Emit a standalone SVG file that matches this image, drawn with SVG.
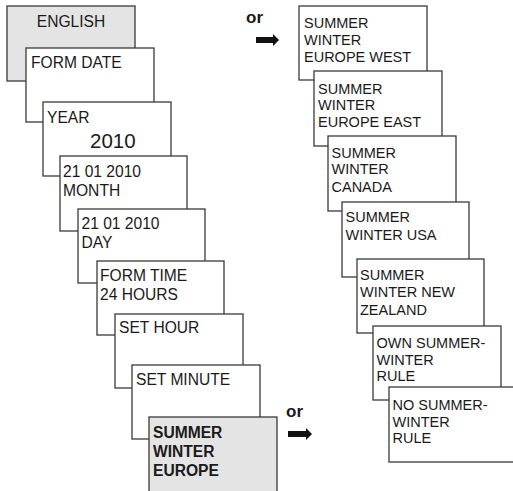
<svg xmlns="http://www.w3.org/2000/svg" width="513" height="491" viewBox="0 0 513 491">
<style>
.box{fill:#ffffff;stroke:#3a3a3a;stroke-width:1.3}
.sel{fill:#e4e4e4;stroke:#3a3a3a;stroke-width:1.3}
text{font-family:"Liberation Sans",Arial,sans-serif;fill:#1a1a1a}
.l{font-size:15.6px}
.r{font-size:14.5px}
.b{font-size:15.6px;font-weight:bold}
.big{font-size:20.5px}
.or{font-size:17px;font-weight:bold}
.arr{fill:#111111}
</style>
<rect width="513" height="491" fill="#ffffff"/>
<g id="english"><rect class="sel" x="7" y="6" width="128" height="75"/><text class="l" x="71" y="27" text-anchor="middle">ENGLISH</text></g>
<g id="form-date"><rect class="box" x="26" y="48" width="128" height="74"/><text class="l" x="31" y="68">FORM DATE</text></g>
<g id="year"><rect class="box" x="43" y="102" width="128" height="74"/><text class="l" x="47" y="123">YEAR</text><text class="big" x="90" y="148">2010</text></g>
<g id="month"><rect class="box" x="60" y="156" width="127" height="75"/><text class="l" x="63" y="177">21 01 2010</text><text class="l" x="63" y="196">MONTH</text></g>
<g id="day"><rect class="box" x="78" y="209" width="127" height="74"/><text class="l" x="81.5" y="229">21 01 2010</text><text class="l" x="81.5" y="248">DAY</text></g>
<g id="form-time"><rect class="box" x="97" y="261" width="127" height="74"/><text class="l" x="100" y="281">FORM TIME</text><text class="l" x="100" y="299.5">24 HOURS</text></g>
<g id="set-hour"><rect class="box" x="115" y="314" width="128" height="74"/><text class="l" x="119" y="333">SET HOUR</text></g>
<g id="set-minute"><rect class="box" x="132" y="365" width="128" height="74"/><text class="l" x="136" y="385">SET MINUTE</text></g>
<g id="summer-winter-europe"><rect class="sel" x="149" y="417" width="128" height="80"/><text class="b" x="153" y="437.5">SUMMER</text><text class="b" x="153" y="456.5">WINTER</text><text class="b" x="153" y="475.5">EUROPE</text></g>
<g id="europe-west"><rect class="box" x="299" y="6" width="128" height="74"/><text class="r" x="304" y="27.5">SUMMER</text><text class="r" x="304" y="44.5">WINTER</text><text class="r" x="304" y="61.5">EUROPE WEST</text></g>
<g id="europe-east"><rect class="box" x="314" y="71" width="128" height="75"/><text class="r" x="318" y="93.5">SUMMER</text><text class="r" x="318" y="110">WINTER</text><text class="r" x="318" y="126.5">EUROPE EAST</text></g>
<g id="canada"><rect class="box" x="328" y="136" width="128" height="75"/><text class="r" x="331.5" y="157.5">SUMMER</text><text class="r" x="331.5" y="174">WINTER</text><text class="r" x="331.5" y="191.5">CANADA</text></g>
<g id="usa"><rect class="box" x="342" y="202" width="127" height="75"/><text class="r" x="345.5" y="221.5">SUMMER</text><text class="r" x="345.5" y="239.5">WINTER USA</text></g>
<g id="new-zealand"><rect class="box" x="357" y="259" width="127" height="74"/><text class="r" x="360" y="279.5">SUMMER</text><text class="r" x="360" y="297">WINTER NEW</text><text class="r" x="360" y="315">ZEALAND</text></g>
<g id="own-rule"><rect class="box" x="373" y="326" width="128" height="74"/><text class="r" x="376.5" y="347.5">OWN SUMMER-</text><text class="r" x="376.5" y="365">WINTER</text><text class="r" x="376.5" y="381">RULE</text></g>
<g id="no-rule"><rect class="box" x="389" y="387" width="130" height="75"/><text class="r" x="392.5" y="409.5">NO SUMMER-</text><text class="r" x="392.5" y="427">WINTER</text><text class="r" x="392.5" y="443">RULE</text></g>
<g id="connectors">
<text class="or" x="246" y="23">or</text>
<path class="arr" d="M256,37 H273 V34 L279,40 L273,46 V43 H256 Z"/>
<text class="or" x="286" y="417">or</text>
<path class="arr" d="M288,431 H306 V428 L312,434 L306,440 V437 H288 Z"/>
</g>
</svg>
